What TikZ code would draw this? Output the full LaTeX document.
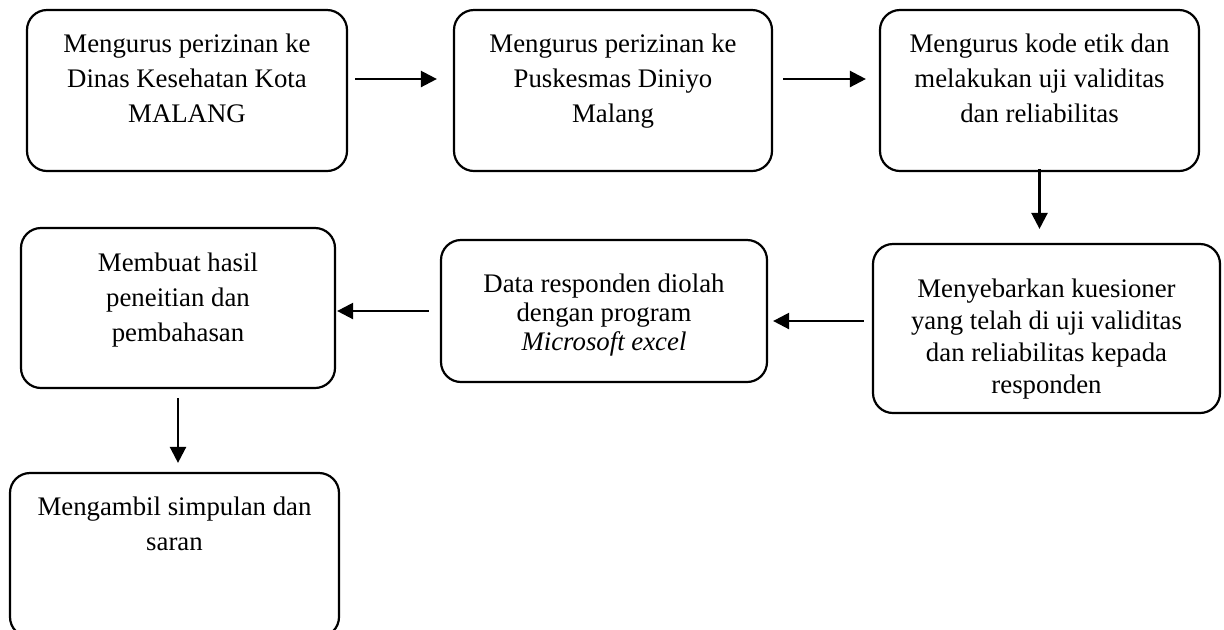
\documentclass[tikz,border=0pt]{standalone}
\usepackage{fontspec}
\setmainfont{Liberation Serif}
\usetikzlibrary{positioning,arrows.meta}

\begin{document}
\begin{tikzpicture}[
			x=0.5pt, y=-0.5pt,
			stepbox/.style={rectangle, draw=black, line width=1.1pt, rounded corners=10pt, inner sep=0pt},
			txt/.style={align=center, inner sep=0pt, font=\fontsize{13.4}{#1}\selectfont},
			txt/.default=17.5,
			arrow/.style={-{Triangle[length=8pt, width=8pt]}, line width=1.2pt, draw=black}
			]
			
			\useasboundingbox (0,0) rectangle (1224,629);
			
			\node (izin) at (187, 90.5) [stepbox, minimum width=160pt, minimum height=80.5pt] {};
			\node (izint) [below=12.35pt of izin.north, txt] {Mengurus perizinan ke\\ Dinas Kesehatan Kota\\ MALANG};
			
			\node (pusk) at (613, 90.5) [stepbox, minimum width=159pt, minimum height=80.5pt] {};
			\node (puskt) [below=12.35pt of pusk.north, txt] {Mengurus perizinan ke\\ Puskesmas Diniyo\\ Malang};
			
			\node (etik) at (1039.5, 90.5) [stepbox, minimum width=159.5pt, minimum height=80.5pt] {};
			\node (etikt) [below=12.35pt of etik.north, txt] {Mengurus kode etik dan\\ melakukan uji validitas\\ dan reliabilitas};
			
			\node (sebar) at (1046.5, 328.5) [stepbox, minimum width=173.5pt, minimum height=84.5pt] {};
			\node (sebart) [below=17.85pt of sebar.north, txt=16] {Menyebarkan kuesioner\\ yang telah di uji validitas\\ dan reliabilitas kepada\\ responden};
			
			\node (olah) at (604, 311) [stepbox, minimum width=163pt, minimum height=71pt] {};
			\node (olaht) [below=17.35pt of olah.north, txt=14.5] {Data responden diolah\\ dengan program\\ \textit{Microsoft excel}};
			
			\node (hasil) at (178, 308) [stepbox, minimum width=157pt, minimum height=80pt] {};
			\node (hasilt) [below=12.85pt of hasil.north, txt] {Membuat hasil\\ peneitian dan\\ pembahasan};
			
			\node (simp) at (174.5, 555) [stepbox, minimum width=164.5pt, minimum height=82pt] {};
			\node (simpt) [below=12.35pt of simp.north, txt] {Mengambil simpulan dan\\ saran};
			
			\draw [arrow, shorten <=3.5pt, shorten >=8pt] ([yshift=5.75pt]izin.east) -- ([yshift=5.75pt]pusk.west);
			\draw [arrow, shorten <=5pt, shorten >=6.5pt] ([yshift=5.75pt]pusk.east) -- ([yshift=5.75pt]etik.west);
			\draw [arrow, shorten <=-1.5pt, shorten >=7pt] (etik.south) -- (etik.south |- sebar.north);
			\draw [arrow, shorten <=4pt, shorten >=2.5pt] ([yshift=3.75pt]sebar.west) -- ([yshift=3.75pt]sebar.west -| olah.east);
			\draw [arrow, shorten <=5.5pt, shorten >=0.5pt] (olah.west) -- (olah.west -| hasil.east);
			\draw [arrow, shorten <=4.5pt, shorten >=4.5pt] (hasil.south) -- (hasil.south |- simp.north);
			\end{tikzpicture}
\end{document}
